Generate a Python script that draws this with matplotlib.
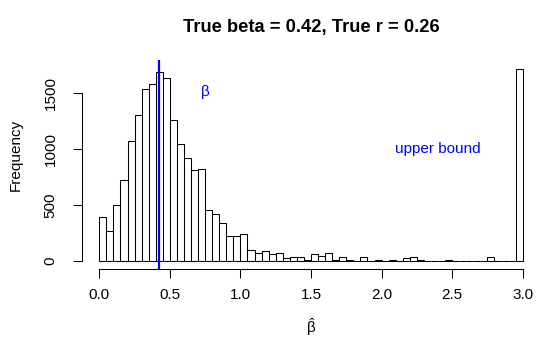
import numpy as np
import matplotlib
matplotlib.use("Agg")
import matplotlib.pyplot as plt

# ---- data ----
bin_width = 0.05
bin_starts = np.round(np.arange(0.0, 3.0, bin_width), 2)
counts = [
    393, 268, 503, 727, 1067, 1308, 1532, 1579, 1687, 1633,   # 0.00-0.50
    1260, 1049, 921, 811, 817, 456, 418, 335, 220, 226,      # 0.50-1.00
    244, 95, 73, 89, 62, 75, 26, 35, 33, 10,                  # 1.00-1.50
    62, 46, 70, 12, 35, 8, 3, 35, 3, 5,                       # 1.50-2.00
    2, 8, 3, 27, 32, 8, 2, 1, 2, 11,                          # 2.00-2.50
    4, 2, 1, 2, 2, 33, 2, 1, 2, 1712,                         # 2.50-3.00
]
true_beta = 0.42
x_ticks = [0.0, 0.5, 1.0, 1.5, 2.0, 2.5, 3.0]
x_tick_labels = ["0.0", "0.5", "1.0", "1.5", "2.0", "2.5", "3.0"]
y_ticks = [0, 500, 1000, 1500]
y_tick_labels = ["0", "500", "1000", "1500"]
title = "True beta = 0.42, True r = 0.26"
ylabel = "Frequency"
xlabel = r"$\hat{\beta}$"
annot_beta = ("\u03b2", 0.75, 1510)
annot_upper = ("upper bound", 2.4, 1000)

# ---- style ----
plt.rcParams["font.family"] = ["Liberation Sans", "DejaVu Sans"]
plt.rcParams["mathtext.fontset"] = "custom"
plt.rcParams["mathtext.rm"] = "Liberation Sans"
plt.rcParams["mathtext.it"] = "Liberation Sans"
plt.rcParams["mathtext.bf"] = "Liberation Sans:bold"

W, H = 536, 345
dpi = 100
fig = plt.figure(figsize=(W / dpi, H / dpi), dpi=dpi)

# pixel geometry
x0_px, px_per_x = 99.3, 141.13
y0_px, px_per_y = 261.0, 0.112
ax_left_px, ax_right_px = 81.7, 536.0
ax_top_px, ax_bot_px = 60.0, 269.3

ax = fig.add_axes([ax_left_px / W, (H - ax_bot_px) / H,
                   (ax_right_px - ax_left_px) / W, (ax_bot_px - ax_top_px) / H])
ax.set_xlim(-(x0_px - ax_left_px) / px_per_x, (ax_right_px - x0_px) / px_per_x)
ax.set_ylim(-(ax_bot_px - y0_px) / px_per_y, (y0_px - ax_top_px) / px_per_y)

ax.bar(bin_starts, counts, width=bin_width, align="edge",
       facecolor="white", edgecolor="black", linewidth=0.75)
ax.axvline(true_beta, color="#0000FF", linewidth=1.6)

ax.text(annot_beta[1], annot_beta[2], annot_beta[0], color="#0000FF",
        fontsize=11, ha="center", va="center")
ax.text(annot_upper[1], annot_upper[2], annot_upper[0], color="#0000FF",
        fontsize=11, ha="center", va="center")

for s in ["top", "right"]:
    ax.spines[s].set_visible(False)
ax.spines["left"].set_bounds(0, 1500)
ax.spines["bottom"].set_bounds(0, 3.0)
for s in ["left", "bottom"]:
    ax.spines[s].set_linewidth(0.75)

ax.set_xticks(x_ticks)
ax.set_xticklabels(x_tick_labels)
ax.set_yticks(y_ticks)
ax.set_yticklabels(y_tick_labels, rotation=90, va="center")
ax.tick_params(axis="both", length=6.5, width=0.75, labelsize=11, direction="out")
ax.tick_params(axis="x", pad=7)
ax.tick_params(axis="y", pad=11)

fig.text(311 / W, 1 - 31.7 / H, title, ha="center", va="baseline",
         fontsize=13.2, fontweight="bold")
fig.text(311 / W, 1 - 327 / H, xlabel, ha="center", va="center", fontsize=11)
fig.text(16 / W, 1 - 155 / H, ylabel, ha="center", va="center",
         rotation=90, fontsize=11)

fig.savefig("out.png", dpi=dpi)
